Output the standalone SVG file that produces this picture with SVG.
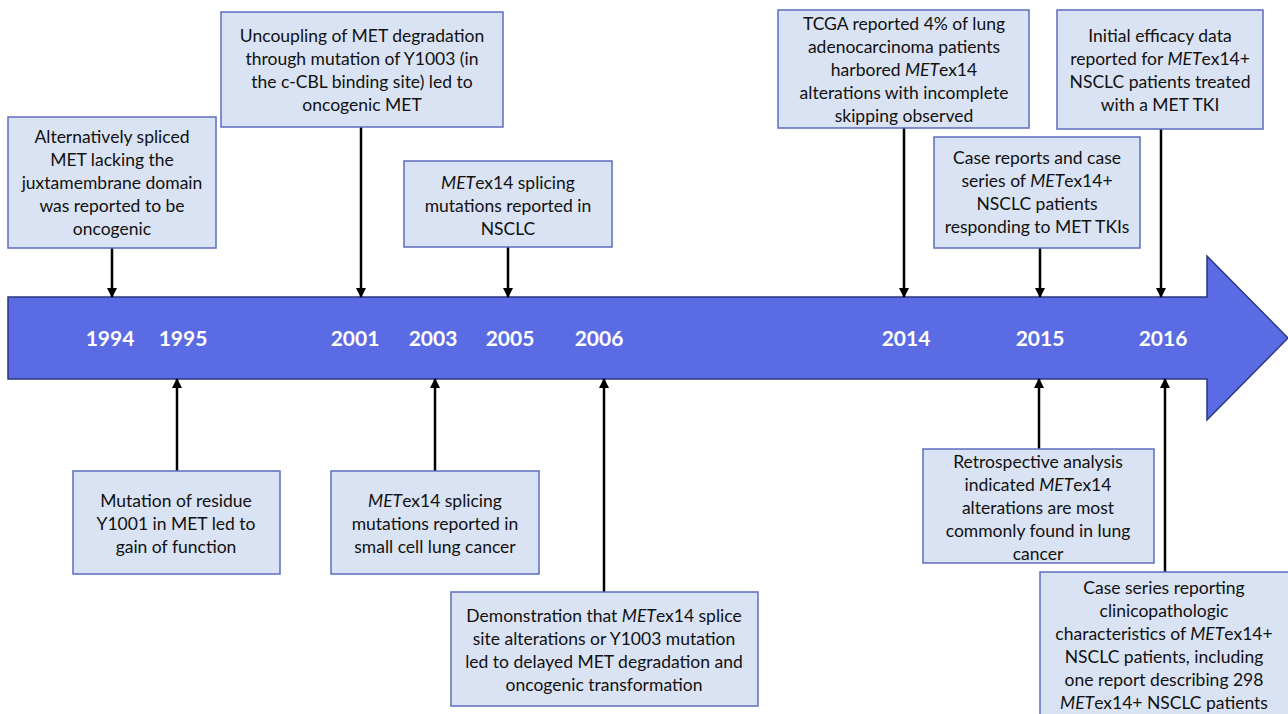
<svg xmlns="http://www.w3.org/2000/svg" width="1288" height="714" viewBox="0 0 1288 714">
<style>
.box{fill:#dae3f3;stroke:#5d6cbf;stroke-width:1.5}
.t{font-family:Lato,"Liberation Sans",sans-serif;font-size:17.5px;fill:#111;text-anchor:middle}
.yr{font-family:Lato,"Liberation Sans",sans-serif;font-size:21px;font-weight:bold;fill:#fff;text-anchor:middle}
.c{stroke:#000;stroke-width:2.5;fill:none;marker-end:url(#ah)}
.i{font-style:italic}
</style>
<defs>
<marker id="ah" viewBox="0 0 10 10" refX="9" refY="5" markerWidth="4" markerHeight="4" orient="auto" markerUnits="strokeWidth">
<path d="M0,0 L10,5 L0,10 z" fill="#000"/>
</marker>
</defs>
<rect width="1288" height="714" fill="#fff"/>
<g id="timeline">
<path d="M8,297 L1207,297 L1207,256 L1288,338 L1207,420 L1207,379 L8,379 Z" fill="#5b6be3" stroke="#2b3580" stroke-width="1.5"/>
<text class="yr" x="110" y="346">1994</text>
<text class="yr" x="183" y="346">1995</text>
<text class="yr" x="355" y="346">2001</text>
<text class="yr" x="433" y="346">2003</text>
<text class="yr" x="510" y="346">2005</text>
<text class="yr" x="599" y="346">2006</text>
<text class="yr" x="906" y="346">2014</text>
<text class="yr" x="1040" y="346">2015</text>
<text class="yr" x="1163" y="346">2016</text>
</g>
<g id="connectors">
<line class="c" x1="112" y1="248" x2="112" y2="297"/>
<line class="c" x1="361" y1="127" x2="361" y2="297"/>
<line class="c" x1="508" y1="247" x2="508" y2="297"/>
<line class="c" x1="904" y1="128" x2="904" y2="297"/>
<line class="c" x1="1040" y1="248" x2="1040" y2="297"/>
<line class="c" x1="1161" y1="129" x2="1161" y2="297"/>
<line class="c" x1="177" y1="471" x2="177" y2="379"/>
<line class="c" x1="435" y1="471" x2="435" y2="379"/>
<line class="c" x1="604" y1="592" x2="604" y2="379"/>
<line class="c" x1="1039" y1="449" x2="1039" y2="379"/>
<line class="c" x1="1165" y1="572" x2="1165" y2="379"/>
</g>
<g id="n1994">
<rect class="box" x="8" y="117" width="208" height="131"/>
<text class="t" x="112" y="143">Alternatively spliced</text>
<text class="t" x="112" y="166">MET lacking the</text>
<text class="t" x="112" y="189">juxtamembrane domain</text>
<text class="t" x="112" y="212">was reported to be</text>
<text class="t" x="112" y="235">oncogenic</text>
</g>
<g id="n2001">
<rect class="box" x="221" y="12" width="282" height="115"/>
<text class="t" x="362" y="42">Uncoupling of MET degradation</text>
<text class="t" x="362" y="65">through mutation of Y1003 (in</text>
<text class="t" x="362" y="88">the c-CBL binding site) led to</text>
<text class="t" x="362" y="111">oncogenic MET</text>
</g>
<g id="n2005">
<rect class="box" x="404" y="161" width="208" height="86"/>
<text class="t" x="508" y="189"><tspan class="i">MET</tspan>ex14 splicing</text>
<text class="t" x="508" y="212">mutations reported in</text>
<text class="t" x="508" y="235">NSCLC</text>
</g>
<g id="n2014">
<rect class="box" x="778" y="10" width="251" height="118"/>
<text class="t" x="904" y="30">TCGA reported 4% of lung</text>
<text class="t" x="904" y="53">adenocarcinoma patients</text>
<text class="t" x="904" y="76">harbored <tspan class="i">MET</tspan>ex14</text>
<text class="t" x="904" y="99">alterations with incomplete</text>
<text class="t" x="904" y="122">skipping observed</text>
</g>
<g id="n2015a">
<rect class="box" x="934" y="137" width="206" height="111"/>
<text class="t" x="1037" y="164">Case reports and case</text>
<text class="t" x="1037" y="187">series of <tspan class="i">MET</tspan>ex14+</text>
<text class="t" x="1037" y="210">NSCLC patients</text>
<text class="t" x="1037" y="233">responding to MET TKIs</text>
</g>
<g id="n2016a">
<rect class="box" x="1057" y="10" width="206" height="119"/>
<text class="t" x="1160" y="42">Initial efficacy data</text>
<text class="t" x="1160" y="65">reported for <tspan class="i">MET</tspan>ex14+</text>
<text class="t" x="1160" y="88">NSCLC patients treated</text>
<text class="t" x="1160" y="111">with a MET TKI</text>
</g>
<g id="n1995">
<rect class="box" x="73" y="471" width="207" height="103"/>
<text class="t" x="176" y="507">Mutation of residue</text>
<text class="t" x="176" y="530">Y1001 in MET led to</text>
<text class="t" x="176" y="553">gain of function</text>
</g>
<g id="n2003">
<rect class="box" x="331" y="471" width="208" height="103"/>
<text class="t" x="435" y="507"><tspan class="i">MET</tspan>ex14 splicing</text>
<text class="t" x="435" y="530">mutations reported in</text>
<text class="t" x="435" y="553">small cell lung cancer</text>
</g>
<g id="n2006">
<rect class="box" x="451" y="592" width="307" height="114"/>
<text class="t" x="604" y="622">Demonstration that <tspan class="i">MET</tspan>ex14 splice</text>
<text class="t" x="604" y="645">site alterations or Y1003 mutation</text>
<text class="t" x="604" y="668">led to delayed MET degradation and</text>
<text class="t" x="604" y="691">oncogenic transformation</text>
</g>
<g id="n2015b">
<rect class="box" x="923" y="449" width="231" height="114"/>
<text class="t" x="1038" y="468">Retrospective analysis</text>
<text class="t" x="1038" y="491">indicated <tspan class="i">MET</tspan>ex14</text>
<text class="t" x="1038" y="514">alterations are most</text>
<text class="t" x="1038" y="537">commonly found in lung</text>
<text class="t" x="1038" y="560">cancer</text>
</g>
<g id="n2016b">
<rect class="box" x="1040" y="572" width="250" height="150"/>
<text class="t" x="1164" y="594">Case series reporting</text>
<text class="t" x="1164" y="617">clinicopathologic</text>
<text class="t" x="1164" y="640">characteristics of <tspan class="i">MET</tspan>ex14+</text>
<text class="t" x="1164" y="663">NSCLC patients, including</text>
<text class="t" x="1164" y="686">one report describing 298</text>
<text class="t" x="1164" y="709"><tspan class="i">MET</tspan>ex14+ NSCLC patients</text>
</g>
</svg>
